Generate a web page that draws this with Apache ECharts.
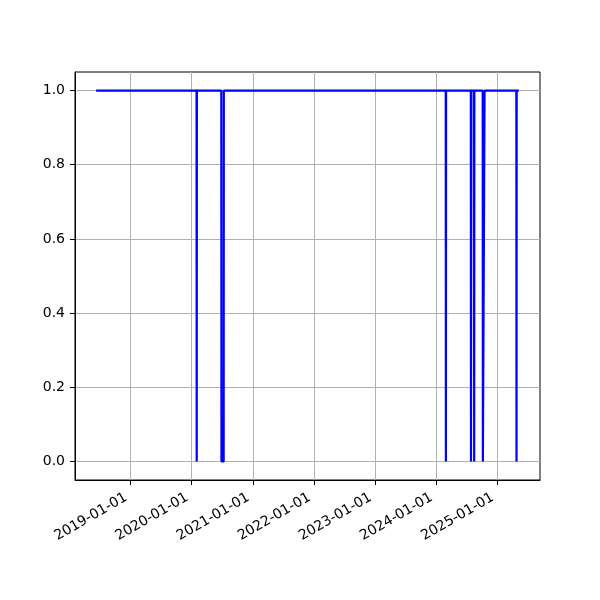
<!DOCTYPE html>
<html>
<head>
<meta charset="utf-8">
<script src="https://cdn.jsdelivr.net/npm/echarts@6/dist/echarts.min.js"></script>
<style>html,body{margin:0;padding:0;background:#fff}#c{width:600px;height:600px}</style>
</head>
<body>
<div id="c"></div>
<script>
var dates = ['2018-06-10',
  '2020-01-31','2020-02-01','2020-02-02',
  '2020-06-27','2020-06-28','2020-07-11','2020-07-12',
  '2024-02-28','2024-02-29','2024-03-01',
  '2024-07-27','2024-07-28','2024-07-29','2024-07-30',
  '2024-08-15','2024-08-16','2024-08-17',
  '2024-10-06','2024-10-07','2024-10-16','2024-10-17',
  '2025-04-25','2025-04-26','2025-04-27',
  '2025-05-10'];
var values = [1,
  1,0,1,
  1,0,0,1,
  1,0,1,
  1,0,0,1,
  1,0,1,
  1,0,0,1,
  1,0,1,
  1];
var xTickLabels = ['2019-01-01','2020-01-01','2021-01-01','2022-01-01','2023-01-01','2024-01-01','2025-01-01'];
var yTickValues = [0.0,0.2,0.4,0.6,0.8,1.0];

function toTime(s){var p=s.split('-');return new Date(+p[0],+p[1]-1,+p[2]).getTime();}
function fmt(t){var d=new Date(Math.round(t));function z(n){return (n<10?'0':'')+n;}return d.getFullYear()+'-'+z(d.getMonth()+1)+'-'+z(d.getDate());}

var data = dates.map(function(d,i){return [toTime(d), values[i]];});
var t0 = toTime(dates[0]), t1 = toTime(dates[dates.length-1]);
var pad = (t1-t0)*0.05;
var xTicks = xTickLabels.map(toTime);

var chart = echarts.init(document.getElementById('c'), null, {renderer:'canvas'});
var font = 'DejaVu Sans';
chart.setOption({
  animation:false,
  grid:{left:75, right:60, top:72, bottom:120, show:true, borderColor:'#000', borderWidth:1, backgroundColor:'transparent'},
  xAxis:{
    type:'value', min:t0-pad, max:t1+pad, scale:true,
    axisLine:{show:true, onZero:false, lineStyle:{color:'#000', width:1}},
    axisTick:{show:true, length:5, lineStyle:{color:'#000'}, customValues:xTicks},
    axisLabel:{customValues:xTicks, rotate:30, margin:14, padding:[0,5,0,0], color:'#000', fontSize:14, fontFamily:font,
      formatter:function(v){return fmt(v);}},
    splitLine:{show:true, lineStyle:{color:'#b0b0b0', width:1}}
  },
  yAxis:{
    type:'value', min:-0.05, max:1.05,
    axisLine:{show:true, onZero:false, lineStyle:{color:'#000', width:1}},
    axisTick:{show:true, length:5, lineStyle:{color:'#000'}, customValues:yTickValues},
    axisLabel:{customValues:yTickValues, margin:10, color:'#000', fontSize:14, fontFamily:font,
      formatter:function(v){return v.toFixed(1);}},
    splitLine:{show:true, lineStyle:{color:'#b0b0b0', width:1}}
  },
  series:[{
    type:'line', data:data, showSymbol:false, symbol:'none',
    lineStyle:{color:'#0000ff', width:2.2}, itemStyle:{color:'#0000ff'}
  }]
});
</script>
</body>
</html>
